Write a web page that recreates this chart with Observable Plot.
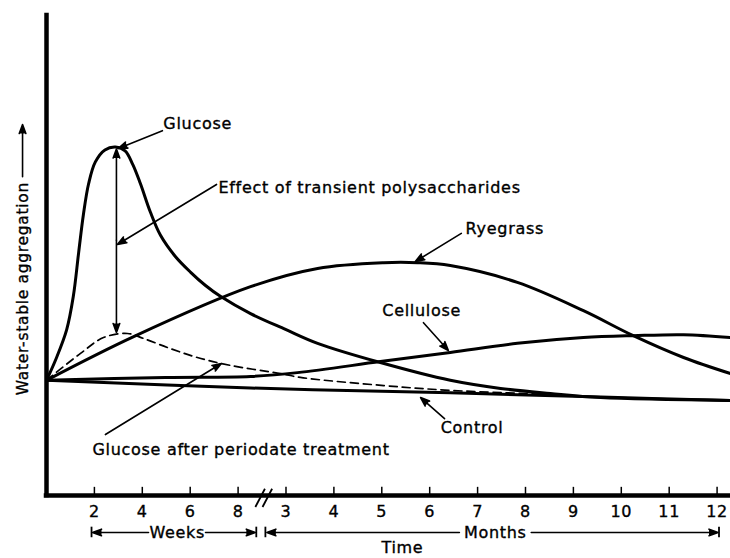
<!DOCTYPE html>
<html><head><meta charset="utf-8">
<script src="https://cdn.jsdelivr.net/npm/d3@7"></script>
<script src="https://cdn.jsdelivr.net/npm/@observablehq/plot@0.6"></script>
<style>
body{margin:0;background:#fff;}
#chart svg text{letter-spacing:0.7px;stroke:black;stroke-width:0.35px;}
</style></head><body><div id="chart"></div>
<script>
// Time axis: weeks, a break, then months. Axis units t: week w -> w/2, month m -> m + 2
const weekTicks = [2, 4, 6, 8];
const monthTicks = [3, 4, 5, 6, 7, 8, 9, 10, 11, 12];
const tMax = 14.28;

// Water-stable aggregation (arbitrary units 0-100)
const glucoseT = [0, 0.2, 0.42, 0.56, 0.67, 0.77, 0.88, 1.02, 1.22, 1.44, 1.64, 1.80, 1.96, 2.17, 2.38, 2.69, 3.01, 3.32, 3.63, 4.26, 4.99, 5.66, 6.97, 8.43, 9.48, 10.52, 11.57, 14.28];
const glucoseV = [24, 28.5, 34.5, 41.5, 50.5, 58.5, 65.0, 69.5, 72.0, 72.6, 71.8, 69.0, 65.0, 59.0, 54.2, 49.8, 46.5, 43.75, 41.5, 37.9, 34.6, 31.7, 27.7, 24.0, 22.3, 21.25, 20.4, 19.8];

const periodateT = [0, 0.71, 1.19, 1.69, 2.03, 2.59, 3.15, 3.84, 4.89, 5.30, 7.04, 8.43, 10.4];
const periodateV = [24, 29.6, 32.9, 33.75, 32.7, 30.6, 28.75, 27.1, 25.4, 24.6, 22.9, 21.9, 21.1];

const ryegrassT = [0, 1.82, 4.26, 5.66, 7.04, 7.75, 8.43, 9.83, 11.21, 12.25, 13.30, 14.28];
const ryegrassV = [24, 33.1, 43.5, 47.3, 48.5, 48.5, 47.9, 44.4, 38.5, 33.3, 28.75, 25.4];

const celluloseT = [0, 2.48, 4.26, 5.24, 6.97, 8.43, 9.83, 11.21, 12.25, 13.30, 14.28];
const celluloseV = [24, 24.6, 24.8, 25.6, 27.9, 29.8, 31.7, 32.9, 33.3, 33.5, 32.9];

const controlT = [0, 4.26, 8.43, 11.57, 14.28];
const controlV = [24, 22.4, 21.4, 20.5, 19.8];

// Annotation labels and their leaders
const labelNames = ["Glucose", "Effect of transient polysaccharides", "Ryegrass", "Cellulose", "Control", "Glucose after periodate treatment"];
const labelT = [2.44, 3.59, 8.75, 7.01, 8.23, 0.96];
const labelV = [77.5, 64.0, 55.6, 38.5, 14.0, 9.6];
const leaderFrom = [[2.42, 76.0], [3.55, 64.8], [8.66, 54.6], [7.87, 36.0], [8.31, 16.0], [1.23, 12.7]];
const leaderTo = [[1.50, 72.3], [1.48, 52.3], [7.70, 48.75], [8.39, 30.2], [7.81, 20.4], [3.65, 27.5]];

// ---- build tables ----
const toRows = (name, T, V) => T.map((t, i) => ({name, t, v: V[i]}));
const solid = [
  ...toRows("Glucose", glucoseT, glucoseV),
  ...toRows("Ryegrass", ryegrassT, ryegrassV),
  ...toRows("Cellulose", celluloseT, celluloseV),
  ...toRows("Control", controlT, controlV)
];
const dashed = toRows("Glucose after periodate treatment", periodateT, periodateV);

const ticks = [...weekTicks.map(w => ({t: w / 2, label: String(w)})), ...monthTicks.map(m => ({t: m + 2, label: String(m)}))];
const tickLabel = new Map(ticks.map(d => [d.t, d.label]));

const labels = labelNames.map((text, i) => ({text, t: labelT[i], v: labelV[i]}));
const leaders = leaderFrom.map((a, i) => ({x1: a[0], y1: a[1], x2: leaderTo[i][0], y2: leaderTo[i][1]}));

// double arrow: glucose peak to periodate peak
const gPeak = d3.max(glucoseV);
const pPeak = d3.max(periodateV);
const arrowT = 1.46;
const mid = (gPeak + pPeak) / 2;
const doubleArrow = [
  {x1: arrowT, y1: mid, x2: arrowT, y2: gPeak - 0.4},
  {x1: arrowT, y1: mid, x2: arrowT, y2: pPeak + 0.2}
];

// time brackets under the axis
const rowV = -7.7;
const brackets = [
  {x1: 2.13, x2: 0.96}, {x1: 3.32, x2: 4.36},
  {x1: 8.62, x2: 4.60}, {x1: 10.12, x2: 14.02}
].map(d => ({...d, y1: rowV, y2: rowV}));
const bracketEnds = [0.94, 4.38, 4.57, 14.04];
const bracketNames = [{text: "Weeks", t: 2.73}, {text: "Months", t: 9.37}];
const breakT = 4.51;

const arrowStyle = {x1: "x1", y1: "y1", x2: "x2", y2: "y2", stroke: "black", strokeWidth: 1.6, headLength: 9, headAngle: 40, fill: "black", strokeLinejoin: "miter"};

const chart = Plot.plot({
  width: 730,
  height: 558,
  marginLeft: 46,
  marginRight: 0,
  marginTop: 15,
  marginBottom: 63,
  style: {fontFamily: "'DejaVu Sans', sans-serif", fontSize: "16px", background: "white", overflow: "visible", color: "black"},
  x: {domain: [0, tMax], axis: null},
  y: {domain: [0, 100], axis: null},
  marks: [
    // axes
    Plot.ruleY([0], {x1: 0, x2: tMax, strokeWidth: 4.5, strokeLinecap: "square"}),
    Plot.ruleX([0], {y1: 0, y2: 100, strokeWidth: 4.5, strokeLinecap: "square"}),
    Plot.ruleX(ticks, {x: "t", y1: 0, y2: 1.7, strokeWidth: 1.5}),
    Plot.axisX(ticks.map(d => d.t), {tickSize: 0, tickPadding: 10, tickFormat: d => tickLabel.get(d), label: null, fontSize: 16}),
    // axis break
    Plot.link([{a: breakT - 0.15, b: breakT + 0.05}, {a: breakT, b: breakT + 0.2}], {x1: "a", x2: "b", y1: -2.4, y2: 1.4, strokeWidth: 1.8}),
    // curves
    Plot.line(solid, {x: "t", y: "v", z: "name", curve: "catmull-rom", strokeWidth: 3, stroke: "black"}),
    Plot.line(dashed, {x: "t", y: "v", curve: "catmull-rom", strokeWidth: 1.7, strokeDasharray: "8,5", stroke: "black"}),
    // double arrow
    Plot.arrow(doubleArrow, arrowStyle),
    // leaders + labels
    Plot.arrow(leaders, arrowStyle),
    Plot.text(labels, {x: "t", y: "v", text: "text", textAnchor: "start", fontSize: 16}),
    // y label
    Plot.text(["Water-stable aggregation"], {x: -0.5, y: 43.1, text: d => d, rotate: -90, fontSize: 15.5}),
    Plot.arrow([{x1: -0.5, y1: 66.4, x2: -0.5, y2: 77.3}], arrowStyle),
    // time brackets
    Plot.arrow(brackets, arrowStyle),
    Plot.ruleX(bracketEnds, {y1: rowV - 1.1, y2: rowV + 1.1, strokeWidth: 1.8}),
    Plot.text(bracketNames, {x: "t", y: rowV, text: "text", fontSize: 16}),
    Plot.text(["Time"], {x: 7.43, y: -11.0, text: d => d, fontSize: 16})
  ]
});
document.getElementById("chart").append(chart);
</script></body></html>
